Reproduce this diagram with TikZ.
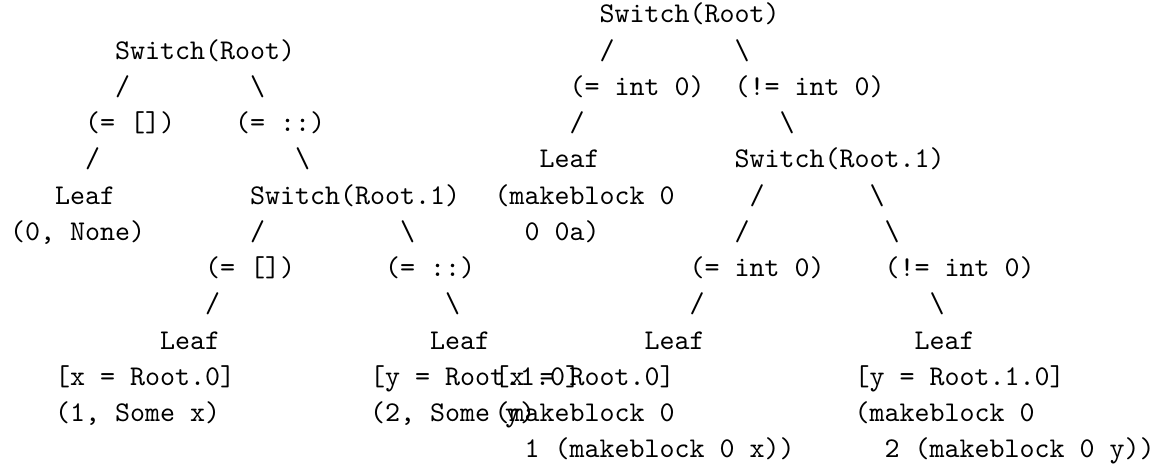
\documentclass[tikz,border=0pt]{standalone}
\begin{document}
\begin{tikzpicture}[
      x=5.25pt,y=-12.6875pt,
      every node/.style={anchor=base west,inner sep=0pt,font=\ttfamily}]
    \useasboundingbox (0,0) rectangle (78,12.91);
    % list match
    \begin{scope}[shift={(0.633,0.628)}]
      \node (lroot)    at (7,1)  {Switch(Root)};
      \node (lrootl)   at (7,2)  {/};
      \node (lrootr)   at (16,2) {\textbackslash};
      \node (lnil)     at (5,3)  {(= [])};
      \node (lcons)    at (15,3) {(= ::)};
      \node (lnill)    at (5,4)  {/};
      \node (lconsr)   at (19,4) {\textbackslash};
      \node (lleaf)    at (3,5)  {Leaf};
      \node (lsub)     at (16,5) {Switch(Root.1)};
      \node (lleafv)   at (0,6)  {(0, None)};
      \node (lsubl)    at (16,6) {/};
      \node (lsubr)    at (26,6) {\textbackslash};
      \node (lsubnil)  at (13,7) {(= [])};
      \node (lsubcons) at (25,7) {(= ::)};
      \node (lsubnill) at (13,8) {/};
      \node (lsubconsr) at (29,8) {\textbackslash};
      \node (lleafx)   at (10,9) {Leaf};
      \node (lleafy)   at (28,9) {Leaf};
      \node (lbindx)   at (3,10) {[x = Root.0]};
      \node (lbindy)   at (24,10) {[y = Root.1.0]};
      \node (lvalx)    at (3,11) {(1, Some x)};
      \node (lvaly)    at (24,11) {(2, Some y)};
    \end{scope}
    % int match
    \begin{scope}[shift={(32.93,0.628)}]
      \node (rroot)    at (7,0)  {Switch(Root)};
      \node (rrootl)   at (7,1)  {/};
      \node (rrootr)   at (16,1) {\textbackslash};
      \node (rzero)    at (5,2)  {(= int 0)};
      \node (rnz)      at (16,2) {(!= int 0)};
      \node (rzerol)   at (5,3)  {/};
      \node (rnzr)     at (19,3) {\textbackslash};
      \node (rleaf)    at (3,4)  {Leaf};
      \node (rsub)     at (16,4) {Switch(Root.1)};
      \node (rleafv)   at (0,5)  {(makeblock 0};
      \node (rsubl)    at (17,5) {/};
      \node (rsubr)    at (25,5) {\textbackslash};
      \node (rleafw)   at (2,6)  {0 0a)};
      \node (rsubll)   at (16,6) {/};
      \node (rsubrr)   at (26,6) {\textbackslash};
      \node (rsubzero) at (13,7) {(= int 0)};
      \node (rsubnz)   at (26,7) {(!= int 0)};
      \node (rsubzerol) at (13,8) {/};
      \node (rsubnzr)  at (29,8) {\textbackslash};
      \node (rleafx)   at (10,9) {Leaf};
      \node (rleafy)   at (28,9) {Leaf};
      \node (rbindx)   at (0,10) {[x = Root.0]};
      \node (rbindy)   at (24,10) {[y = Root.1.0]};
      \node (rvalx)    at (0,11) {(makeblock 0};
      \node (rvaly)    at (24,11) {(makeblock 0};
      \node (rvalxw)   at (2,12) {1 (makeblock 0 x))};
      \node (rvalyw)   at (26,12) {2 (makeblock 0 y))};
    \end{scope}
  \end{tikzpicture}
\end{document}
